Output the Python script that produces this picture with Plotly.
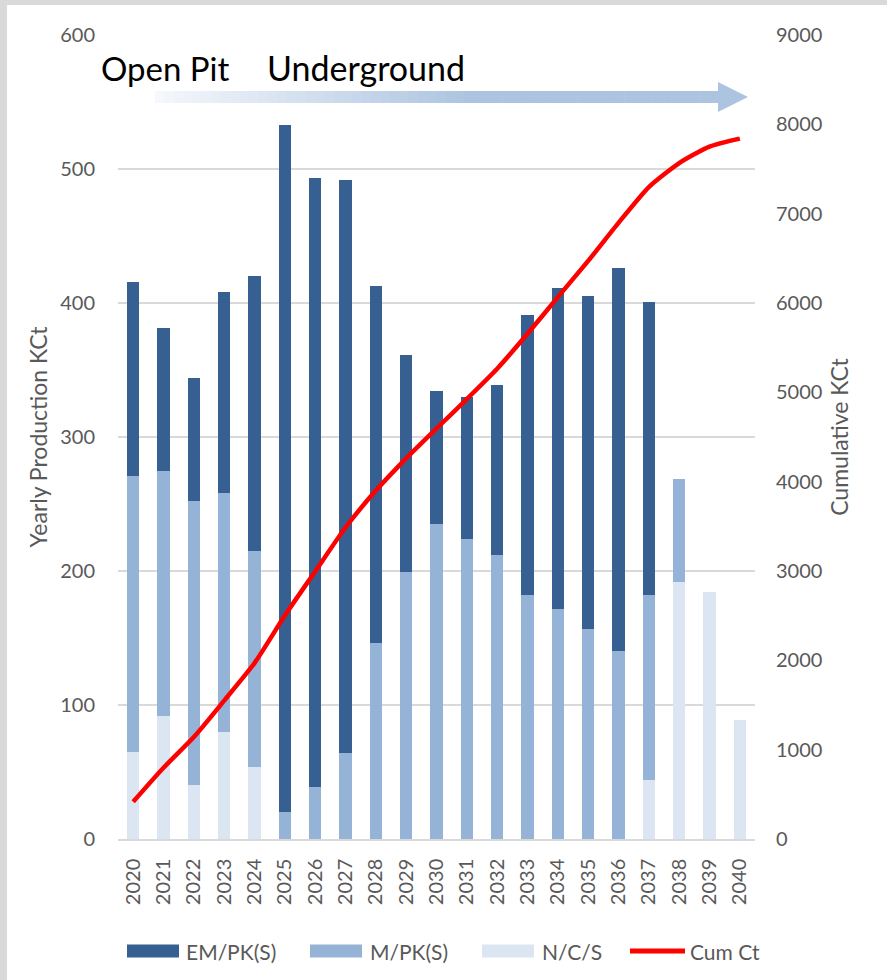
import plotly.graph_objects as go

# --- data ---
years = [str(y) for y in range(2020, 2041)]
em_pk = [145, 106, 92, 150, 205, 513, 454, 428, 267, 162, 99, 106, 127, 209, 239, 248, 286, 219, 0, 0, 0]
m_pk = [206, 183, 212, 178, 161, 20, 39, 64, 146, 199, 235, 224, 212, 182, 172, 157, 140, 138, 77, 0, 0]
n_c_s = [65, 92, 40, 80, 54, 0, 0, 0, 0, 0, 0, 0, 0, 0, 0, 0, 0, 44, 192, 184, 89]
cum_ct = [416, 797, 1141, 1549, 1969, 2502, 2995, 3487, 3900, 4261, 4595,
          4925, 5264, 5655, 6066, 6471, 6897, 7298, 7567, 7751, 7840]

W, H = 887, 980
L, R, T, B = 118, 132, 35, 141
pw, ph = W - L - R, H - T - B


def px(x):
    return (x - L) / pw


def py(y):
    return (H - B - y) / ph


col_em, col_m, col_n, col_cum = "#366092", "#95b3d7", "#dce6f2", "#ff0000"

fig = go.Figure()
# stacked from the bottom up
fig.add_trace(go.Bar(x=years, y=n_c_s, name="N/C/S", marker_color=col_n, marker_line_width=0))
fig.add_trace(go.Bar(x=years, y=m_pk, name="M/PK(S)", marker_color=col_m, marker_line_width=0))
fig.add_trace(go.Bar(x=years, y=em_pk, name="EM/PK(S)", marker_color=col_em, marker_line_width=0))
fig.add_trace(go.Scatter(x=years, y=cum_ct, name="Cum Ct", yaxis="y2", mode="lines",
                         line=dict(color=col_cum, width=4.5, shape="spline", smoothing=0.6)))

shapes = []
# white card inside the gray frame
shapes.append(dict(type="rect", xref="paper", yref="paper", x0=px(7), x1=px(W + 5), y0=py(H + 5), y1=py(5),
                   fillcolor="white", line_width=0, layer="below"))

# gradient arrow
x_start, x_end, head_start = 155, 748, 718
n = 60
c0 = (245, 248, 252)
c1 = (173, 196, 224)
seg = (head_start - x_start) / n
for i in range(n):
    t = min(1.0, (i / n) / 0.55)
    c = tuple(int(c0[k] + (c1[k] - c0[k]) * t) for k in range(3))
    shapes.append(dict(type="rect", xref="paper", yref="paper",
                       x0=px(x_start + i * seg), x1=px(x_start + (i + 1) * seg + 0.6),
                       y0=py(103), y1=py(91), fillcolor="rgb(%d,%d,%d)" % c, line_width=0))
shapes.append(dict(type="path", xref="paper", yref="paper",
                   path="M %f,%f L %f,%f L %f,%f Z" % (px(head_start), py(82), px(x_end), py(97), px(head_start), py(112)),
                   fillcolor="rgb(173,196,224)", line_width=0))

font = "Lato, 'Open Sans', sans-serif"
gray = "#595959"

annotations = [
    dict(text="Open Pit", x=px(99), y=py(68), xref="paper", yref="paper", xanchor="left",
         yanchor="middle", showarrow=False, font=dict(size=33, color="black", family=font)),
    dict(text="Underground", x=px(265), y=py(68), xref="paper", yref="paper", xanchor="left",
         yanchor="middle", showarrow=False, font=dict(size=34, color="black", family=font)),
]

# legend drawn by hand so the keys have the wide Excel-style swatches
leg_y = 951
leg_items = [
    ("EM/PK(S)", col_em, "rect", 127, 179, 184),
    ("M/PK(S)", col_m, "rect", 310, 362, 368),
    ("N/C/S", col_n, "rect", 482, 534, 540),
    ("Cum Ct", col_cum, "line", 630, 685, 688),
]
for name, col, kind, s0, s1, tx in leg_items:
    if kind == "rect":
        shapes.append(dict(type="rect", xref="paper", yref="paper", x0=px(s0), x1=px(s1),
                           y0=py(leg_y + 6.5), y1=py(leg_y - 6.5), fillcolor=col, line_width=0))
    else:
        shapes.append(dict(type="line", xref="paper", yref="paper", x0=px(s0), x1=px(s1),
                           y0=py(leg_y), y1=py(leg_y), line=dict(color=col, width=5)))
    annotations.append(dict(text=name, x=px(tx), y=py(leg_y), xref="paper", yref="paper",
                            xanchor="left", yanchor="middle", showarrow=False,
                            font=dict(size=21, color=gray, family=font)))

fig.update_layout(
    width=W, height=H,
    margin=dict(l=L, r=R, t=T, b=B),
    paper_bgcolor="#d9d9d9",
    plot_bgcolor="white",
    barmode="stack",
    bargap=0.6,
    showlegend=False,
    font=dict(family=font, color=gray, size=17),
    shapes=shapes,
    annotations=annotations,
    xaxis=dict(type="category", tickangle=-90, showgrid=False, showline=True, linecolor="#d9d9d9",
               linewidth=1.5, ticks="", tickfont=dict(size=20, color=gray), ticklabelstandoff=10,
               automargin=False),
    yaxis=dict(range=[0, 600], dtick=100, showgrid=True, gridcolor="#d9d9d9", gridwidth=1.5,
               zeroline=False, ticks="", tickfont=dict(size=20, color=gray), ticklabelstandoff=22,
               title=dict(text="Yearly Production KCt", font=dict(size=23, color=gray), standoff=6),
               automargin=False),
    yaxis2=dict(range=[0, 9000], dtick=1000, overlaying="y", side="right", showgrid=False,
                zeroline=False, ticks="", tickfont=dict(size=20, color=gray), ticklabelstandoff=20,
                title=dict(text="Cumulative KCt", font=dict(size=23, color=gray), standoff=10),
                automargin=False),
)

# drop the browser's default 8px body margin so the figure sits at the page origin
fig.write_html("out.html", config={"displayModeBar": False},
               post_script="document.body.style.margin='0';")
